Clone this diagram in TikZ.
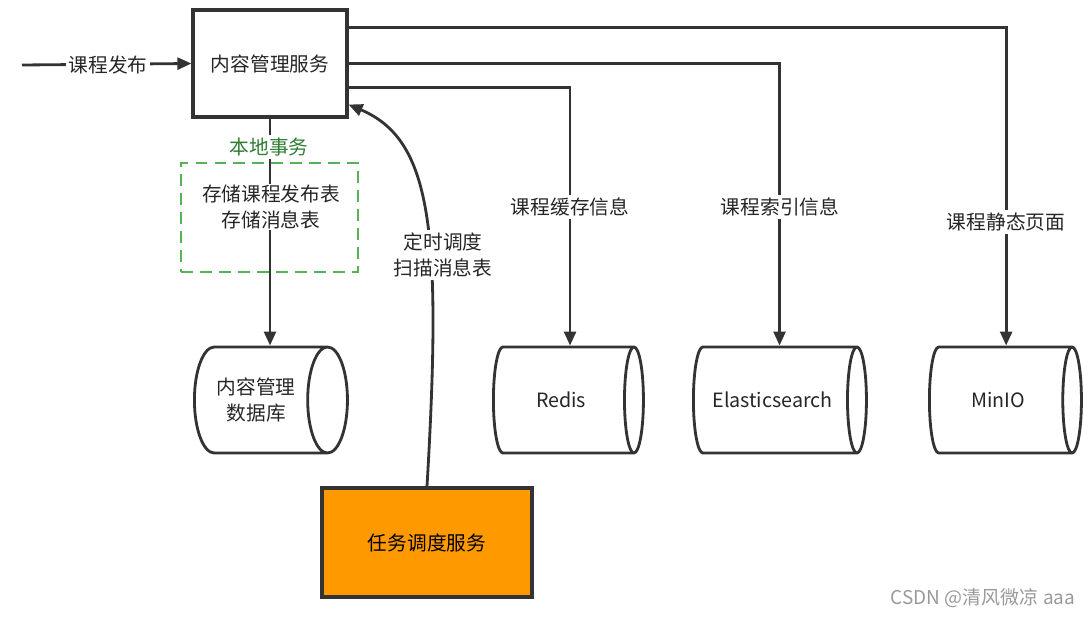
\documentclass[tikz,border=0pt]{standalone}
\usepackage{fontspec}
\setmainfont{Noto Sans CJK SC}
\usepackage{tikz}
\usetikzlibrary{arrows.meta,shapes.geometric}

\definecolor{linegray}{HTML}{333333}
\definecolor{taskorange}{HTML}{FF9900}
\definecolor{txgreen}{HTML}{55B255}
\definecolor{txtext}{HTML}{2E7D32}

\tikzset{
	conn/.style={draw=linegray, line width=2pt},
	arr/.style={conn, -{Triangle[length=10pt,width=8.5pt]}},
	svcbox/.style={draw=linegray, line width=2.2pt, fill=white, minimum width=3.85cm, minimum height=2.675cm},
	store/.style={cylinder, draw=linegray, line width=2pt, aspect=0.75, minimum width=2.65cm, align=center, text=black!85, anchor=west},
	lbl/.style={fill=white, inner sep=2pt, align=center, text=black!85},
}

\begin{document}
\begin{tikzpicture}[x=0.025cm, y=-0.025cm, font=\fontsize{14}{18}\selectfont]
		\useasboundingbox (0,0) rectangle (1092,618);

		\node[svcbox, text=black!85] (cms) at (270,63.5) {内容管理服务};
		\node[svcbox, fill=taskorange, minimum width=5.25cm, minimum height=2.725cm] (sched) at (427,542.5) {任务调度服务};

		\node[store, minimum height=3.825cm] (db) at (193,400) {内容管理\\数据库};
		\node[store, minimum height=3.75cm] (redis) at (492,400) {Redis};
		\node[store, minimum height=4.325cm] (es) at (692,400) {Elasticsearch};
		\node[store, minimum height=3.8cm] (minio) at (928,400) {MinIO};

		\coordinate (in) at (22,65);
		\draw[arr] (in) -- (cms.west);
		\node[lbl] (publish) at (108,65) {课程发布};

		% local transaction
		\draw[arr] (cms.south) -- (cms.south |- db.north);
		\node[draw=txgreen, line width=2pt, dash pattern=on 8.5pt off 5pt, minimum width=4.425cm, minimum height=2.725cm] (tx) at (269.5,217.5) {};
		\node[lbl, text=txtext] (txname) at (269,147) {本地事务};
		\node[lbl, inner sep=1pt] (txsave) at (271,207) {存储课程发布表\\存储消息表};

		\draw[arr] ([yshift=-0.475cm]cms.north east) -| ([xshift=0.2cm]minio.north);
		\draw[arr] ([yshift=-1.375cm]cms.north east) -| ([xshift=0.175cm]es.north);
		\draw[arr] ([yshift=-1.975cm]cms.north east) -| ([xshift=0.225cm]redis.north);
		\node[lbl] (cache) at (570,207) {课程缓存信息};
		\node[lbl] (index) at (780,207) {课程索引信息};
		\node[lbl] (static) at (1006,222) {课程静态页面};

		\draw[arr] (sched.north) .. controls (442,230) and (432,140) .. ([yshift=0.35cm]cms.south east);
		\node[lbl] (scan) at (443,255) {定时调度\\扫描消息表};

		\node[text=black!40, font=\fontsize{13.5}{16}\selectfont] (mark) at (983,598) {CSDN @清风微凉 aaa};
	\end{tikzpicture}
\end{document}
